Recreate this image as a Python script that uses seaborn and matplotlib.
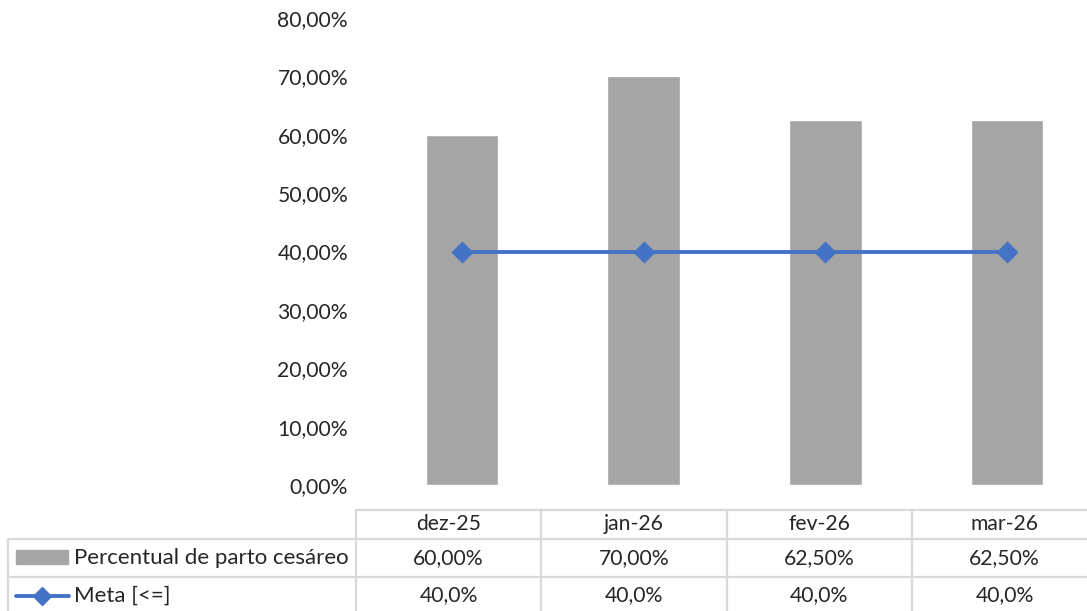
import matplotlib
matplotlib.use('Agg')
import matplotlib.pyplot as plt
import seaborn as sns
from matplotlib.patches import Rectangle
from matplotlib.lines import Line2D

sns.set_theme(style='white')
plt.rcParams['font.family'] = ['Lato', 'DejaVu Sans']

## dados
meses = ['dez-25', 'jan-26', 'fev-26', 'mar-26']
cesareo = [0.60, 0.70, 0.625, 0.625]
meta = [0.40, 0.40, 0.40, 0.40]
yticks = [0, 0.1, 0.2, 0.3, 0.4, 0.5, 0.6, 0.7, 0.8]
nome_barra = 'Percentual de parto cesáreo'
nome_linha = 'Meta [<=]'

cor_barra = '#A5A5A5'
cor_linha = '#4472C4'
cor_grade = '#D9D9D9'
fs = 15.2

W, H = 1087, 611
fig = plt.figure(figsize=(W / 100, H / 100), dpi=100)

# area do grafico
ax = fig.add_axes([371 / W, (H - 485) / H, 727 / W, 467 / H])
sns.barplot(x=meses, y=cesareo, color=cor_barra, width=0.4, saturation=1, ax=ax)
sns.pointplot(x=meses, y=meta, color=cor_linha, markers='D', markersize=9,
              linewidth=2.8, ax=ax)
ax.set_ylim(0, 0.8)
ax.set_xlim(-0.5, 3.5)
ax.set_yticks(yticks)
ax.set_yticklabels([f'{v*100:.2f}%'.replace('.', ',') for v in yticks], fontsize=fs)
ax.tick_params(axis='y', length=0, pad=16.5)
ax.set_xticks([])
ax.set_xlabel('')
ax.set_ylabel('')
for s in ax.spines.values():
    s.set_visible(False)
ax.grid(False)

# tabela de dados embaixo (coordenadas em pixels)
tb = fig.add_axes([0, 0, 1, 1], zorder=-1)
tb.set_xlim(0, W)
tb.set_ylim(H, 0)
tb.axis('off')

col_x = [356 + 185.3 * i for i in range(5)]
row_y = [510, 539, 577, 620]
lab_x0 = 8
lw = 1.6

# linhas horizontais
tb.plot([col_x[0], W + 5], [row_y[0]] * 2, color=cor_grade, lw=lw)
for y in row_y[1:3]:
    tb.plot([lab_x0, W + 5], [y, y], color=cor_grade, lw=lw)
# linhas verticais
tb.plot([lab_x0, lab_x0], [row_y[1], row_y[3]], color=cor_grade, lw=lw)
for x in col_x:
    tb.plot([x, x], [row_y[0], row_y[3]], color=cor_grade, lw=lw)

centros = [(col_x[i] + col_x[i + 1]) / 2 for i in range(4)]
ymid = [(row_y[i] + row_y[i + 1]) / 2 for i in range(3)]
for cx, m, c, mt in zip(centros, meses, cesareo, meta):
    tb.text(cx, ymid[0], m, ha='center', va='center', fontsize=fs)
    tb.text(cx, ymid[1], f'{c*100:.2f}%'.replace('.', ','), ha='center', va='center', fontsize=fs)
    tb.text(cx, ymid[2] - 3, f'{mt*100:.1f}%'.replace('.', ','), ha='center', va='center', fontsize=fs)

# chaves da legenda
tb.add_patch(Rectangle((16, 550), 52, 14, color=cor_barra))
tb.text(74, ymid[1], nome_barra, ha='left', va='center', fontsize=16)
tb.add_line(Line2D([16, 69], [596, 596], color=cor_linha, lw=2.8))
tb.plot([42], [596], marker='D', color=cor_linha, markersize=9)
tb.text(74, ymid[2] - 3, nome_linha, ha='left', va='center', fontsize=16)

fig.savefig('out.png', dpi=100)
